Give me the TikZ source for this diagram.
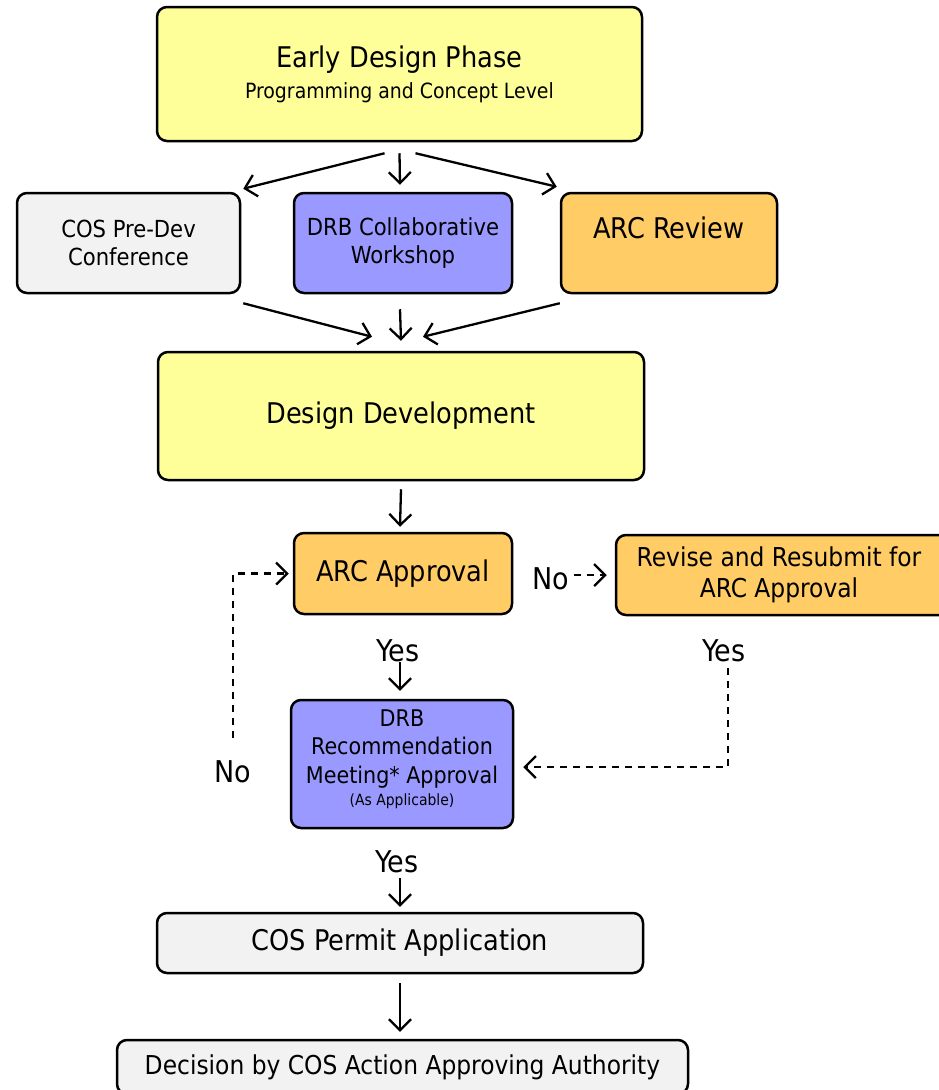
\documentclass[tikz,border=0pt]{standalone}
\usepackage{fontspec}
\setmainfont{DejaVu Sans Condensed}
\usetikzlibrary{arrows.meta}

\definecolor{phaseyellow}{HTML}{FFFF99}
\definecolor{cosgray}{HTML}{F2F2F2}
\definecolor{drbblue}{HTML}{9999FF}
\definecolor{arcorange}{HTML}{FFCC66}

\tikzset{
  box/.style={draw, line width=2.5pt, rounded corners=10pt, align=center, inner sep=0pt},
  arr/.style={-{Straight Barb[length=11pt,width=22pt]}, line width=2.3pt},
  dasharr/.style={arr, dash pattern=on 7pt off 6pt},
  bigtxt/.style={font=\fontsize{28.5}{31}\selectfont},
  midtxt/.style={font=\fontsize{23.5}{28}\selectfont},
  lbltxt/.style={font=\fontsize{30}{34}\selectfont},
}

\begin{document}
\begin{tikzpicture}[x=1pt,y=-1pt]

   \clip (0,0) rectangle (939,1090);

   % boxes
   \node[box, fill=phaseyellow, bigtxt, minimum width=485pt, minimum height=134pt] (early) at (399.5,74)
      {Early Design Phase\\{\fontsize{21}{25}\selectfont Programming and Concept Level}};
   \node[box, fill=cosgray, midtxt, minimum width=223pt, minimum height=100pt] (predev) at (128.5,243)
      {COS Pre-Dev\\Conference};
   \node[box, fill=drbblue, midtxt, minimum width=218pt, minimum height=100pt] (collab) at (403,243)
      {DRB Collaborative\\Workshop};
   \node[box, fill=arcorange, bigtxt, minimum width=216pt, minimum height=100pt] (arcrev) at (669,243)
      {ARC Review\\\mbox{}};
   \node[box, fill=phaseyellow, bigtxt, minimum width=486pt, minimum height=128pt] (design) at (401,416)
      {Design Development};
   \node[box, fill=arcorange, bigtxt, minimum width=218pt, minimum height=81pt] (approval) at (403,573.5)
      {ARC Approval};
   \node[box, fill=arcorange, font=\fontsize{26}{31}\selectfont, minimum width=334pt, minimum height=80pt] (revise) at (783,575)
      {\hspace*{-8pt}Revise and Resubmit for\\\hspace*{-8pt}ARC Approval};
   \node[box, fill=drbblue, font=\fontsize{23}{28.5}\selectfont, minimum width=222pt, minimum height=128pt] (drbrec) at (402,764)
      {DRB\\Recommendation\\Meeting* Approval\\[-6pt]{\fontsize{15.5}{18}\selectfont (As Applicable)}\\[-16pt]\mbox{}};
   \node[box, fill=cosgray, bigtxt, minimum width=486pt, minimum height=60pt] (permit) at (400,943)
      {COS Permit Application};
   \node[box, fill=cosgray, font=\fontsize{26}{30}\selectfont, minimum width=571pt, minimum height=54pt] (decision) at (402.5,1067)
      {Decision by COS Action Approving Authority};

   % labels
   \node[lbltxt] (yes1) at (398,651) {Yes};
   \node[lbltxt] (yes2) at (724,651) {Yes};
   \node[lbltxt] (yes3) at (397,862) {Yes};
   \node[lbltxt, inner sep=0pt] (no1) at (551,579) {No};
   \node[lbltxt] (no2) at (233,772) {No};

   % arrows
   \draw[arr] ([xshift=-15pt,yshift=-11pt]early.south) -- ([xshift=2pt,yshift=3pt]predev.north east);
   \draw[arr] ([yshift=-11pt]early.south) -- ([xshift=-3pt,yshift=7pt]collab.north);
   \draw[arr] ([xshift=16pt,yshift=-11pt]early.south) -- ([xshift=-3pt,yshift=5pt]arcrev.north west);

   \draw[arr] ([xshift=2pt,yshift=-9pt]predev.south east) -- ([xshift=-29pt,yshift=14pt]design.north);
   \draw[arr] ([xshift=-3pt,yshift=-15pt]collab.south) -- ([yshift=10pt]design.north);
   \draw[arr] ([yshift=-9pt]arcrev.south west) -- ([xshift=22pt,yshift=14pt]design.north);

   \draw[arr] ([yshift=-8pt]design.south) -- ([xshift=-3pt,yshift=5pt]approval.north);
   \draw[arr] ([xshift=2pt,yshift=-11pt]yes1.center) -- ([xshift=-2pt,yshift=8pt]drbrec.north);
   \draw[arr] ([xshift=3pt,yshift=-16pt]yes3.center) -- ([yshift=5pt]permit.north);
   \draw[arr] ([yshift=-9pt]permit.south) -- ([xshift=-2.5pt,yshift=7pt]decision.north);

   \draw[dasharr] ([xshift=4pt,yshift=4pt]no1.east) -- ([xshift=-8pt]revise.west);
   \draw[dasharr] ([xshift=4pt,yshift=-17pt]yes2.center) |- ([xshift=9pt,yshift=-3pt]drbrec.east);
   \draw[dasharr] ([yshift=34pt]no2.center) |- ([xshift=-4pt]approval.west);

\end{tikzpicture}
\end{document}
